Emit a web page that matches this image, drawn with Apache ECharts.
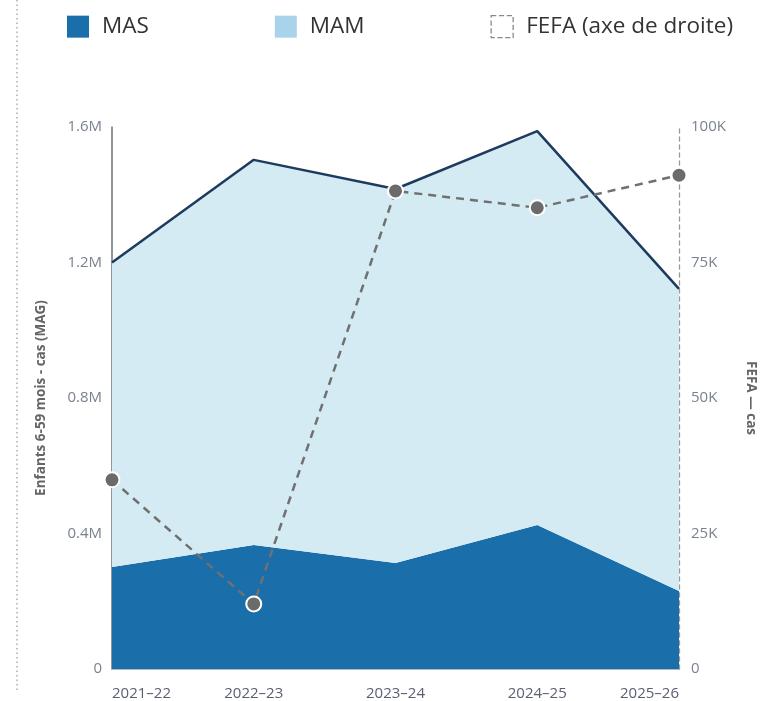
<!DOCTYPE html>
<html><head><meta charset="utf-8">
<script src="https://cdn.jsdelivr.net/npm/echarts@6/dist/echarts.min.js"></script>
<style>html,body{margin:0;padding:0;background:#fff}#c{width:779px;height:701px}</style>
</head><body><div id="c"></div>
<script>
const categories = ['2021–22','2022–23','2023–24','2024–25','2025–26'];
const masValues = [301000, 366000, 313000, 425000, 230000];
const mamValues = [899000, 1137000, 1104000, 1163000, 892000];
const fefaValues = [34900, 12000, 88200, 85100, 91100];
const leftTicks = {min:0, max:1600000, interval:400000};
const rightTicks = {min:0, max:100000, interval:25000};

const fmtM = v => v === 0 ? '0' : (v/1e6).toFixed(1) + 'M';
const fmtK = v => v === 0 ? '0' : Math.round(v/1000) + 'K';
const FONT = '"Open Sans", "Noto Sans", sans-serif';

const chart = echarts.init(document.getElementById('c'));
chart.setOption({
  animation:false,
  textStyle:{fontFamily:FONT},
  legend:{
    top:10, left:62, itemGap:126, itemWidth:22, itemHeight:22,
    textStyle:{fontSize:22.5, color:'#333', fontFamily:FONT, padding:[0,0,0,8]},
    data:[
      {name:'MAS', icon:'rect', itemStyle:{color:'#1a6faa'}},
      {name:'MAM', icon:'rect', itemStyle:{color:'#a8d3ea'}},
      {name:'FEFA (axe de droite)', icon:'rect', itemStyle:{color:'rgba(0,0,0,0)', borderColor:'#8a8a8a', borderType:'dashed', borderWidth:1.3}}
    ]
  },
  grid:{left:112, right:100, top:127, bottom:30},
  xAxis:{
    type:'category', data:categories, boundaryGap:false,
    axisLine:{lineStyle:{color:'#9aa0a8', width:1.5}},
    axisTick:{show:false},
    axisLabel:{fontSize:15, color:'#5a6070', margin:17, fontFamily:FONT,
               alignMinLabel:'left', alignMaxLabel:'right'}
  },
  yAxis:[
    {type:'value', ...leftTicks,
     name:'Enfants 6-59 mois - cas (MAG)', nameLocation:'middle', nameGap:64, nameRotate:90,
     nameTextStyle:{fontSize:13.5, fontWeight:'bold', color:'#666', fontFamily:FONT},
     axisLine:{show:true, lineStyle:{color:'#6b7380', width:1.5}},
     axisTick:{show:false},
     splitLine:{show:false},
     axisLabel:{formatter:fmtM, fontSize:15, color:'#7a8290', margin:10, fontFamily:FONT}},
    {type:'value', ...rightTicks, position:'right',
     name:'FEFA — cas', nameLocation:'middle', nameGap:65, nameRotate:-90,
     nameTextStyle:{fontSize:13.5, fontWeight:'bold', color:'#666', fontFamily:FONT},
     axisLine:{show:true, lineStyle:{color:'#999', width:1.3, type:[4,4]}},
     axisTick:{show:false},
     splitLine:{show:false},
     axisLabel:{formatter:fmtK, fontSize:15, color:'#7a8290', margin:12, fontFamily:FONT}}
  ],
  series:[
    {name:'MAS', type:'line', stack:'t', data:masValues, symbol:'none',
     lineStyle:{width:0}, itemStyle:{color:'#1a6faa'},
     areaStyle:{color:'#1a6faa', opacity:1}, z:2},
    {name:'MAM', type:'line', stack:'t', data:mamValues, symbol:'none',
     lineStyle:{width:2.5, color:'#1f3a5f'}, itemStyle:{color:'#a8d3ea'},
     areaStyle:{color:'#d5ebf4', opacity:1}, z:2},
    {name:'FEFA (axe de droite)', type:'line', yAxisIndex:1, data:fefaValues,
     symbol:'circle', symbolSize:15,
     lineStyle:{width:2.5, color:'#707070', type:[8,6]},
     itemStyle:{color:'#6b6b6b', borderColor:'#fff', borderWidth:2}, z:5}
  ],
  graphic:[
    {type:'line', shape:{x1:17, y1:0, x2:17, y2:692},
     style:{stroke:'#999', lineWidth:1.2, lineDash:[1.5,3]}}
  ]
});
</script></body></html>
